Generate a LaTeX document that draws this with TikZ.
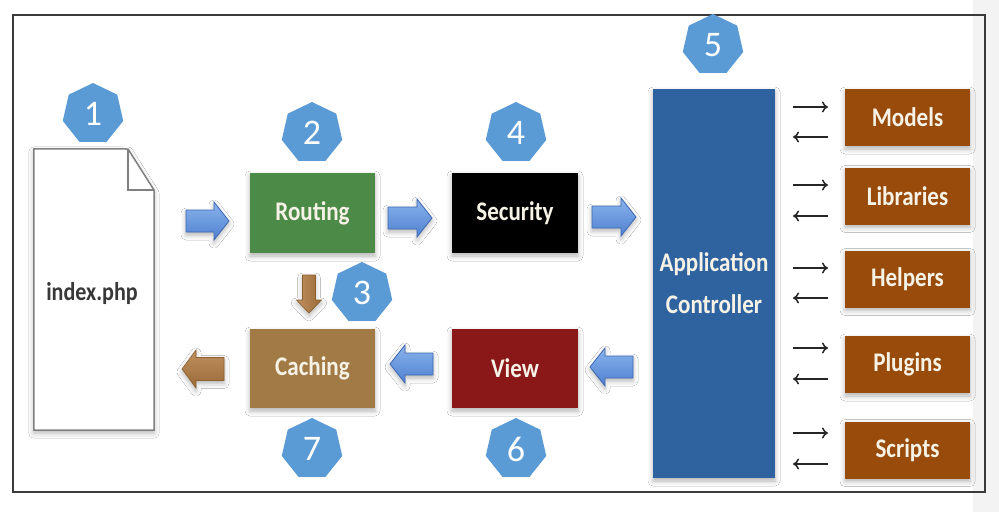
\documentclass[tikz,border=0pt]{standalone}
\usepackage{fontspec}
\usepackage{graphicx}
\setmainfont{Carlito}
\usetikzlibrary{shapes.geometric,arrows.meta,shadows.blur}
\definecolor{badgeblue}{HTML}{5B9BD5}
\definecolor{framec}{HTML}{3A3A3A}
\definecolor{routegreen}{HTML}{4C8A48}
\definecolor{cachebrown}{HTML}{A27A46}
\definecolor{viewred}{HTML}{8B1818}
\definecolor{appblue}{HTML}{2E63A0}
\definecolor{partorange}{HTML}{984B0B}
\definecolor{boxtext}{HTML}{F6F2E6}
\definecolor{arrowtop}{HTML}{8AB4EC}
\definecolor{arrowbot}{HTML}{4F80D0}
\definecolor{arrowline}{HTML}{3E68B4}
\definecolor{brtop}{HTML}{C09060}
\definecolor{brbot}{HTML}{9A6A38}
\definecolor{brline}{HTML}{8A6030}
\definecolor{stripgray}{HTML}{F3F3F3}
\newcommand{\tallt}[1]{\scalebox{0.96}[1.12]{#1}}
% horizontal block arrow: name, xtail, xtip, y, shaft half, head half, signed head length, style
\newcommand{\blockH}[8]{%
  \coordinate (#1) at ({(#2+#3)/2},#4);
  \draw[#8] (#2,{#4-#5}) -- ({#3-#7},{#4-#5}) -- ({#3-#7},{#4-#6}) -- (#3,#4)
    -- ({#3-#7},{#4+#6}) -- ({#3-#7},{#4+#5}) -- (#2,{#4+#5}) -- cycle;}
% vertical block arrow: name, x, ytail, ytip, shaft half, head half, head length, style
\newcommand{\blockV}[8]{%
  \coordinate (#1) at (#2,{(#3+#4)/2});
  \draw[#8] ({#2-#5},#3) -- ({#2-#5},{#4-#7}) -- ({#2-#6},{#4-#7}) -- (#2,#4)
    -- ({#2+#6},{#4-#7}) -- ({#2+#5},{#4-#7}) -- ({#2+#5},#3) -- cycle;}
\begin{document}
\begin{tikzpicture}[x=1pt,y=-1pt,
  softshadow/.style={blur shadow={shadow xshift=0pt,shadow yshift=-3pt,shadow blur radius=5pt,shadow opacity=30}},
  box/.style={rectangle, inner sep=0pt, text=boxtext, font=\bfseries\fontsize{24}{26}\selectfont, softshadow},
  part/.style={box, fill=partorange, minimum width=125pt, minimum height=57pt},
  badge/.style={regular polygon, regular polygon sides=7, minimum size=62pt, inner sep=0pt, fill=badgeblue, text=white, font=\fontsize{36}{36}\selectfont},
  bluearrow/.style={top color=arrowtop, bottom color=arrowbot, draw=arrowline, line width=0.8pt, line join=miter, softshadow},
  brownarrow/.style={top color=brtop, bottom color=brbot, draw=brline, line width=0.6pt, softshadow},
  brownarrowv/.style={left color=brtop, right color=brbot, draw=brline, line width=0.6pt, softshadow},
  thinarrow/.style={-{To[length=6pt,width=11pt]}, line width=1.5pt, draw=black!85},
]
\useasboundingbox (0,0) rectangle (999,512);
\fill[white] (0,0) rectangle (999,512);
\fill[stripgray] (973,0) rectangle (999,512);
\draw[framec, line width=2pt] (13,15) rectangle (985,492);

% document
\node[minimum width=120pt, minimum height=281pt, inner sep=0pt] (doc) at (94,289.5) {};
\draw[gray, line width=1.5pt, fill=white, softshadow] (doc.north west) -- (128,149) -- (154,190) -- (doc.south east) -- (doc.south west) -- cycle;
\draw[gray, line width=1.5pt] (128,149) -- (128,190) -- (154,190);
\node[font=\bfseries\fontsize{23}{25}\selectfont, text=black!78] (doctext) at (92,293) {\tallt{index.php}};

% boxes
\node[box, fill=routegreen, minimum width=125pt, minimum height=80pt] (routing) at (312.5,213) {\tallt{Routing}};
\node[box, fill=black, minimum width=126pt, minimum height=80pt] (security) at (515,213) {\tallt{Security}};
\node[box, fill=cachebrown, minimum width=125pt, minimum height=79pt] (caching) at (312.5,368.5) {\tallt{Caching}};
\node[box, fill=viewred, minimum width=126pt, minimum height=79pt] (view) at (515,368.5) {\tallt{View}};
\node[box, fill=appblue, minimum width=122pt, minimum height=389pt, align=center, font=\bfseries\fontsize{24}{42}\selectfont] (app) at (714,283.5) {\tallt{Application}\\\tallt{Controller}};

\node[part] (models) at (907.5,117.5) {\tallt{Models}};
\node[part] (libraries) at (907.5,196) {\tallt{Libraries}};
\node[part] (helpers) at (907.5,279) {\tallt{Helpers}};
\node[part] (plugins) at (907.5,364.5) {\tallt{Plugins}};
\node[part] (scripts) at (907.5,450) {\tallt{Scripts}};

% badges
\node[badge] (b1) at (93,114) {1};
\node[badge] (b2) at (312,133) {2};
\node[badge] (b3) at (362,293) {3};
\node[badge] (b4) at (516,133) {4};
\node[badge] (b5) at (713,45) {5};
\node[badge] (b6) at (516,449) {6};
\node[badge] (b7) at (312,449) {7};

% block arrows
\blockH{a1}{186}{229}{221}{11}{19}{15}{bluearrow}
\blockH{a2}{388}{432}{218}{11}{19}{15}{bluearrow}
\blockH{a3}{592}{636}{217}{11}{19}{15}{bluearrow}
\blockH{a4}{633}{590}{367}{11}{19}{-15}{bluearrow}
\blockH{a5}{433}{390}{364}{11}{19}{-15}{bluearrow}
\blockH{a6}{224}{182}{369}{11.5}{19}{-14}{brownarrow}
\blockV{a7}{309}{275}{313}{6.5}{12.5}{13}{brownarrowv}

% thin arrows
\foreach \n/\ya/\yb in {m/107/137, l/185/216, h/268/298, p/348/379, s/433/464}{
  \coordinate (\n r1) at (793,\ya);
  \coordinate (\n r2) at (828,\ya);
  \coordinate (\n l1) at (828,\yb);
  \coordinate (\n l2) at (793,\yb);
  \draw[thinarrow] (\n r1) -- (\n r2);
  \draw[thinarrow] (\n l1) -- (\n l2);
}
\end{tikzpicture}
\end{document}
